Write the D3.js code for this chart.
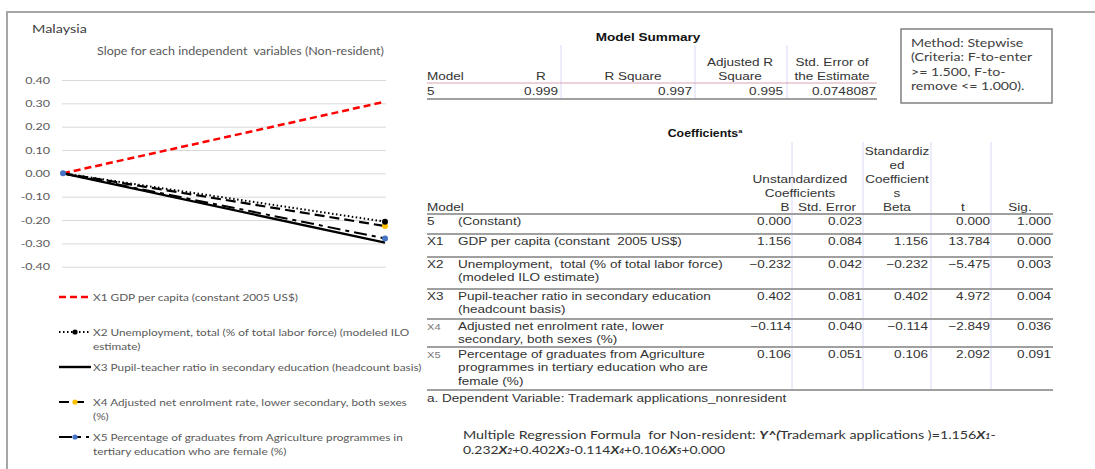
<!DOCTYPE html>
<html>
<head>
<meta charset="utf-8">
<script src="https://cdn.jsdelivr.net/npm/d3@7"></script>
<style>
  html, body { margin: 0; padding: 0; background: #fff; }
  svg { display: block; }
  svg text { white-space: pre; }
</style>
</head>
<body>
<svg id="fig" width="1095" height="469"></svg>
<script>
// ---- data ----
const points = ['start', 'end'];
const yTicks = [0.4, 0.3, 0.2, 0.1, 0, -0.1, -0.2, -0.3, -0.4];
const seriesIds = ['X1', 'X2', 'X3', 'X4', 'X5'];
const x1Slope = [0, 0.307];
const x2Slope = [0, -0.207];
const x3Slope = [0, -0.297];
const x4Slope = [0, -0.226];
const x5Slope = [0, -0.279];
const legendLabels = [
  ['X1 GDP per capita (constant 2005 US$)'],
  ['X2 Unemployment, total (% of total labor force) (modeled ILO', 'estimate)'],
  ['X3 Pupil-teacher ratio in secondary education (headcount basis)'],
  ['X4 Adjusted net enrolment rate, lower secondary, both sexes', '(%)'],
  ['X5 Percentage of graduates from Agriculture programmes in', 'tertiary education who are female (%)']
];

const summaryHeaders = [['Model'], ['R'], ['R Square'], ['Adjusted R', 'Square'], ['Std. Error of', 'the Estimate']];
const summaryValues = ['5', '0.999', '0.997', '0.995', '0.0748087'];

const coefIds = ['5', 'X1', 'X2', 'X3', 'X4', 'X5'];
const coefLabels = [
  ['(Constant)'],
  ['GDP per capita (constant  2005 US$)'],
  ['Unemployment,  total (% of total labor force)', '(modeled ILO estimate)'],
  ['Pupil-teacher ratio in secondary education', '(headcount basis)'],
  ['Adjusted net enrolment rate, lower', 'secondary, both sexes (%)'],
  ['Percentage of graduates from Agriculture', 'programmes in tertiary education who are', 'female (%)']
];
const coefB = [0.000, 1.156, -0.232, 0.402, -0.114, 0.106];
const coefSE = [0.023, 0.084, 0.042, 0.081, 0.040, 0.051];
const coefBeta = [null, 1.156, -0.232, 0.402, -0.114, 0.106];
const coefT = [0.000, 13.784, -5.475, 4.972, -2.849, 2.092];
const coefSig = [1.000, 0.000, 0.003, 0.004, 0.036, 0.091];

const methodLines = ['Method: Stepwise', '(Criteria: F-to-enter', '>= 1.500, F-to-', 'remove <= 1.000).'];

// ---- setup ----
// the source picture is stretched sideways, so every text gets a width factor
const K_SANS = 1.18;
const K_ARIAL = 1.23;
const SANS = 'Lato, "Open Sans", sans-serif';
const ARIAL = '"Liberation Sans", Arial, sans-serif';
const svg = d3.select('#fig');

svg.append('path').attr('d', 'M7,469V12H1095').attr('fill', 'none')
  .attr('stroke', '#a6a6a6').attr('stroke-width', 2);

// ---- slope chart ----
const y = d3.scaleLinear().domain([-0.4, 0.4]).range([266.7, 80]);
const x = d3.scalePoint().domain(points).range([63, 385]);

const yAxis = svg.append('g').attr('transform', 'translate(62,0)')
  .call(d3.axisLeft(y).tickValues(yTicks).tickSize(-324).tickPadding(12)
    .tickFormat(d => d.toFixed(2)));
yAxis.select('.domain').remove();
yAxis.selectAll('line').attr('stroke', '#d9d9d9');
yAxis.selectAll('text').attr('class', 'sans').attr('data-k', 1.25).attr('fill', '#595959')
  .style('font-family', SANS).style('font-size', '10px');

svg.append('text').attr('class', 'sans').attr('x', 32).attr('y', 33).attr('data-k', 1.2)
  .attr('fill', '#404040').style('font', `12px ${SANS}`).text('Malaysia');
svg.append('text').attr('class', 'sans').attr('x', 97).attr('y', 55)
  .attr('fill', '#595959').style('font', `10.6px ${SANS}`)
  .text('Slope for each independent  variables (Non-resident)');

const seriesValues = [x1Slope, x2Slope, x3Slope, x4Slope, x5Slope];
const styles = [
  { color: '#ff0000', width: 2.5, dash: '7,4' },
  { color: '#000', width: 2, dash: '1.5,2.5', end: '#000' },
  { color: '#000', width: 2.4, dash: null },
  { color: '#000', width: 2.2, dash: '10,5', end: '#ffc000' },
  { color: '#000', width: 2, dash: '13,5,4,5', start: '#4472c4', end: '#4472c4' }
];
const line = d3.line().x((d, i) => x(points[i])).y(d => y(d));
const drawOrder = [0, 2, 4, 3, 1];

drawOrder.forEach(i => {
  const s = styles[i];
  svg.append('path').datum(seriesValues[i]).attr('d', line)
    .attr('fill', 'none').attr('stroke', s.color).attr('stroke-width', s.width)
    .attr('stroke-dasharray', s.dash);
});
drawOrder.forEach(i => {
  const s = styles[i];
  const v = seriesValues[i];
  if (s.start) svg.append('circle').attr('cx', x(points[0])).attr('cy', y(v[0])).attr('r', 3).attr('fill', s.start);
  if (s.end) svg.append('circle').attr('cx', x(points[1])).attr('cy', y(v[1])).attr('r', 3).attr('fill', s.end);
});

// legend
const legendY = [297, 332, 367, 402, 437];
seriesIds.forEach((id, i) => {
  const s = styles[i];
  const ly = legendY[i];
  svg.append('line').attr('x1', 59).attr('x2', i === 2 ? 91 : 89).attr('y1', ly).attr('y2', ly)
    .attr('stroke', s.color).attr('stroke-width', s.width).attr('stroke-dasharray', s.dash);
  const mk = s.end || s.start;
  if (mk) svg.append('circle').attr('cx', 75).attr('cy', ly).attr('r', 2.6).attr('fill', mk);
  legendLabels[i].forEach((t, j) => {
    svg.append('text').attr('class', 'sans').attr('x', 93).attr('y', ly + 3.5 + j * 14)
      .attr('fill', '#595959').style('font', `10px ${SANS}`).text(t);
  });
});

// ---- Model Summary ----
const tArial = (px, weight) => `${weight || 'normal'} ${px}px ${ARIAL}`;
svg.append('text').attr('class', 'arial').attr('x', 648).attr('y', 41).attr('text-anchor', 'middle')
  .attr('fill', '#111').style('font', tArial(11, 'bold')).text('Model Summary');

const sumHeadX = [427, 541, 633, 740, 832];
const sumHeadAnchor = ['start', 'middle', 'middle', 'middle', 'middle'];
const sumValX = [427, 558, 692, 783, 876];
[561, 695, 787].forEach(vx => svg.append('line').attr('x1', vx).attr('x2', vx).attr('y1', 45).attr('y2', 99)
  .attr('stroke', '#d8d8f4').attr('stroke-width', 1));
summaryHeaders.forEach((h, i) => {
  h.forEach((t, j) => {
    svg.append('text').attr('class', 'arial').attr('x', sumHeadX[i]).attr('y', 80 - (h.length - 1 - j) * 14)
      .attr('text-anchor', sumHeadAnchor[i]).attr('fill', '#333').style('font', tArial(11)).text(t);
  });
  svg.append('text').attr('class', 'arial').attr('x', sumValX[i]).attr('y', 95)
    .attr('text-anchor', i === 0 ? 'start' : 'end').attr('fill', '#333').style('font', tArial(11))
    .text(summaryValues[i]);
});
svg.append('line').attr('x1', 427).attr('x2', 877).attr('y1', 83).attr('y2', 83)
  .attr('stroke', '#dca4b4').attr('stroke-width', 1);
svg.append('line').attr('x1', 427).attr('x2', 877).attr('y1', 99).attr('y2', 99)
  .attr('stroke', '#a0a0a0').attr('stroke-width', 2);

// ---- Coefficients ----
const ct = svg.append('text').attr('class', 'arial').attr('x', 705).attr('y', 137).attr('text-anchor', 'middle')
  .attr('fill', '#111').style('font', tArial(10, 'bold'));
ct.append('tspan').text('Coefficients');
ct.append('tspan').attr('dy', -4).style('font-size', '6px').text('a');

const colRight = [791, 862, 928, 990, 1051];
[792, 863, 931, 991].forEach(vx => svg.append('line').attr('x1', vx).attr('x2', vx).attr('y1', 142).attr('y2', 390)
  .attr('stroke', '#d8d8f4').attr('stroke-width', 1));

const headTexts = [
  { x: 427, a: 'start', lines: ['Model'] },
  { x: 800, a: 'middle', lines: ['Unstandardized', 'Coefficients', ''] },
  { x: 785, a: 'middle', lines: ['B'] },
  { x: 827, a: 'middle', lines: ['Std. Error'] },
  { x: 897, a: 'middle', lines: ['Standardiz', 'ed', 'Coefficient', 's', 'Beta'] },
  { x: 963, a: 'middle', lines: ['t'] },
  { x: 1020, a: 'middle', lines: ['Sig.'] }
];
headTexts.forEach(h => {
  h.lines.forEach((t, j) => {
    svg.append('text').attr('class', 'arial').attr('x', h.x).attr('y', 211 - (h.lines.length - 1 - j) * 14)
      .attr('text-anchor', h.a).attr('fill', '#333').style('font', tArial(11)).text(t);
  });
});

const rowLines = [214, 234, 257, 289, 319, 347, 390];
rowLines.forEach(ly => svg.append('line').attr('x1', 427).attr('x2', 1053).attr('y1', ly).attr('y2', ly)
  .attr('stroke', '#a0a0a0').attr('stroke-width', 2));

const fmt = v => v === null ? '' : v.toFixed(3).replace('-', '\u2212');
const coefCols = [coefB, coefSE, coefBeta, coefT, coefSig];
coefIds.forEach((id, i) => {
  const by = rowLines[i] + 11;
  svg.append('text').attr('class', 'arial').attr('x', 427).attr('y', by)
    .attr('fill', i >= 4 ? '#777' : '#333').style('font', tArial(i >= 4 ? 9 : 11)).text(id);
  coefLabels[i].forEach((t, j) => {
    svg.append('text').attr('class', 'arial').attr('x', 458).attr('y', by + j * 13.3)
      .attr('fill', '#333').style('font', tArial(11)).text(t);
  });
  coefCols.forEach((col, c) => {
    svg.append('text').attr('class', 'arial').attr('x', colRight[c]).attr('y', by)
      .attr('text-anchor', 'end').attr('fill', '#333').style('font', tArial(11)).text(fmt(col[i]));
  });
});
svg.append('text').attr('class', 'arial').attr('x', 427).attr('y', 402)
  .attr('fill', '#333').style('font', tArial(11)).text('a. Dependent Variable: Trademark applications_nonresident');

// ---- regression formula ----
const fLine1 = svg.append('text').attr('class', 'sans').attr('x', 463).attr('y', 439).attr('data-k', 1.24)
  .attr('fill', '#333').style('font', `11.5px ${SANS}`);
fLine1.append('tspan').text('Multiple Regression Formula  for Non-resident: ');
fLine1.append('tspan').style('font-weight', 'bold').style('font-style', 'italic').text('Y^(');
fLine1.append('tspan').text(`Trademark applications )=${coefB[1].toFixed(3)}`);
const addX = (sel, n) => {
  sel.append('tspan').style('font-weight', 'bold').style('font-style', 'italic').text('X');
  sel.append('tspan').style('font-size', '7px').style('font-weight', 'bold').style('font-style', 'italic').text(n);
};
addX(fLine1, 1);
fLine1.append('tspan').text('-');
const fLine2 = svg.append('text').attr('class', 'sans').attr('x', 463).attr('y', 454).attr('data-k', 1.21)
  .attr('fill', '#333').style('font', `11.5px ${SANS}`);
[2, 3, 4, 5].forEach((n, k) => {
  const b = coefB[n];
  const prefix = k === 0 ? Math.abs(b).toFixed(3) : (b < 0 ? '-' : '+') + Math.abs(b).toFixed(3);
  fLine2.append('tspan').text(prefix);
  addX(fLine2, n);
});
fLine2.append('tspan').text('+' + coefB[0].toFixed(3));

// ---- method box ----
svg.append('rect').attr('x', 901).attr('y', 29).attr('width', 151).attr('height', 74)
  .attr('fill', 'none').attr('stroke', '#808080').attr('stroke-width', 1.5);
methodLines.forEach((t, i) => {
  svg.append('text').attr('class', 'sans').attr('x', 911).attr('y', 47 + i * 14.3).attr('data-k', 1.18)
    .attr('fill', '#404040').style('font', `12px ${SANS}`).text(t);
});

// stretch text sideways like the source image
svg.selectAll('text').each(function () {
  const own = this.getAttribute('data-k');
  const k = own ? +own : (this.classList.contains('arial') ? K_ARIAL : K_SANS);
  const len = this.getComputedTextLength();
  if (len > 0) d3.select(this).attr('textLength', len * k).attr('lengthAdjust', 'spacingAndGlyphs');
});
</script>
</body>
</html>
